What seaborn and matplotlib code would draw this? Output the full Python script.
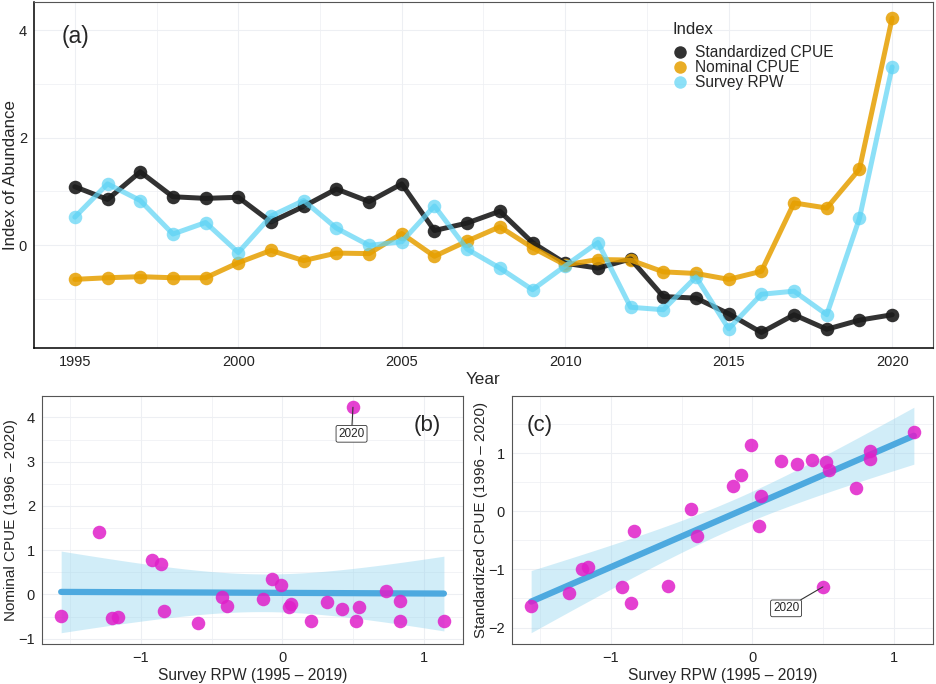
import numpy as np
import pandas as pd
import seaborn as sns
import matplotlib.pyplot as plt
from matplotlib.lines import Line2D
from matplotlib.ticker import MultipleLocator

years = list(range(1995, 2021))

std_cpue = [1.087, 0.85, 1.365, 0.90, 0.87, 0.89, 0.43, 0.72, 1.045, 0.81,
            1.14, 0.27, 0.41, 0.63, 0.045, -0.34, -0.43, -0.26, -0.96, -0.99,
            -1.28, -1.63, -1.30, -1.57, -1.40, -1.30]
nom_cpue = [-0.64, -0.61, -0.59, -0.61, -0.61, -0.33, -0.10, -0.29, -0.15, -0.16,
            0.215, -0.21, 0.074, 0.34, -0.05, -0.37, -0.27, -0.28, -0.50, -0.53,
            -0.64, -0.49, 0.785, 0.69, 1.415, 4.23]
survey_rpw = [0.52, 1.14, 0.83, 0.205, 0.42, -0.14, 0.54, 0.83, 0.315, -0.007,
              0.061, 0.728, -0.077, -0.43, -0.834, -0.388, 0.047, -1.16, -1.206, -0.595,
              -1.562, -0.918, -0.86, -1.298, 0.498, 3.32]

series_names = ['Standardized CPUE', 'Nominal CPUE', 'Survey RPW']
colors = {'Standardized CPUE': '#1c1c1c', 'Nominal CPUE': '#E69F00', 'Survey RPW': '#5CD3F5'}
alphas = {'Standardized CPUE': 0.9, 'Nominal CPUE': 0.85, 'Survey RPW': 0.7}

df = pd.DataFrame({'Year': years * 3,
                   'value': std_cpue + nom_cpue + survey_rpw,
                   'Index': np.repeat(series_names, len(years))})

# lagged pairs: survey in year t vs CPUE in year t+1
lag = pd.DataFrame({'survey': survey_rpw[:-1], 'nominal': nom_cpue[1:],
                    'standard': std_cpue[1:], 'year': years[1:]})

sns.set_style('white')
plt.rcParams['font.family'] = ['Liberation Sans', 'DejaVu Sans']
plt.rcParams['font.size'] = 10.5

fig = plt.figure(figsize=(9.36, 6.84), dpi=100)
ax_a = fig.add_axes([0.0363, 0.4912, 0.9605, 0.5058])
ax_b = fig.add_axes([0.0449, 0.0585, 0.4498, 0.3626])
ax_c = fig.add_axes([0.5470, 0.0585, 0.4498, 0.3626])

grid_col = '#EDEFF3'


def style_axes(ax):
    ax.set_axisbelow(True)
    ax.grid(True, which='major', color=grid_col, lw=0.8)
    ax.grid(True, which='minor', color=grid_col, lw=0.5)
    ax.tick_params(which='major', length=3, width=0.6, color='#444444',
                   labelsize=10.5, labelcolor='#222222', pad=2)
    ax.tick_params(which='minor', length=0)
    for s in ax.spines.values():
        s.set_color('#555555')
        s.set_linewidth(0.8)


# ---- panel (a)
for name in series_names:
    sub = df[df['Index'] == name]
    sns.lineplot(data=sub, x='Year', y='value', color=colors[name], alpha=alphas[name],
                 linewidth=3.6, ax=ax_a, legend=False)
    sns.scatterplot(data=sub, x='Year', y='value', color=colors[name], alpha=alphas[name],
                    s=95, linewidth=0, ax=ax_a, legend=False)

ax_a.set_xlim(1993.75, 2021.25)
ax_a.set_ylim(-1.92, 4.53)
ax_a.xaxis.set_major_locator(MultipleLocator(5))
ax_a.xaxis.set_minor_locator(MultipleLocator(2.5))
ax_a.yaxis.set_major_locator(MultipleLocator(2))
ax_a.yaxis.set_minor_locator(MultipleLocator(1))
style_axes(ax_a)
ax_a.spines['left'].set_color('black')
ax_a.spines['bottom'].set_color('black')
ax_a.spines['left'].set_linewidth(1.1)
ax_a.spines['bottom'].set_linewidth(1.1)
ax_a.set_xlabel('Year', fontsize=12.3, labelpad=2)
ax_a.set_ylabel('Index of Abundance', fontsize=12.2, labelpad=0.5)
ax_a.text(0.031, 0.9, '(a)', transform=ax_a.transAxes, fontsize=16.5, va='center')

handles = [Line2D([], [], ls='none', marker='o', markersize=9, markeredgewidth=0,
                  color=colors[n], alpha=alphas[n]) for n in series_names]
ax_a.text(0.7097, 0.922, 'Index', transform=ax_a.transAxes, fontsize=12, va='center')
leg = ax_a.legend(handles, series_names, loc='upper left',
                  bbox_to_anchor=(0.7086, 0.875), frameon=False, fontsize=11.2,
                  handletextpad=0.35, labelspacing=0.0,
                  borderaxespad=0, borderpad=0, handlelength=1.2)

# ---- regression panels
pt_col = '#E01FC9'
line_col = '#4DA9DF'
band_col = '#8ED3EE'
t_crit = 2.0687  # t(0.975, df=23)


def reg_panel(ax, ycol, ylabel):
    x = lag['survey'].to_numpy()
    y = lag[ycol].to_numpy()
    n = len(x)
    b1, b0 = np.polyfit(x, y, 1)
    resid = y - (b0 + b1 * x)
    s = np.sqrt(np.sum(resid ** 2) / (n - 2))
    xs = np.linspace(x.min(), x.max(), 100)
    yfit = b0 + b1 * xs
    se = s * np.sqrt(1 / n + (xs - x.mean()) ** 2 / np.sum((x - x.mean()) ** 2))
    ax.fill_between(xs, yfit - t_crit * se, yfit + t_crit * se, color=band_col,
                    alpha=0.4, lw=0)
    sns.lineplot(x=xs, y=yfit, color=line_col, linewidth=4.5, ax=ax)
    sns.scatterplot(data=lag, x='survey', y=ycol, color=pt_col, alpha=0.85, s=95,
                    linewidth=0, ax=ax, zorder=3)
    lo = min(y.min(), (yfit - t_crit * se).min())
    hi = max(y.max(), (yfit + t_crit * se).max())
    pad = 0.05 * (hi - lo)
    ax.set_ylim(lo - pad, hi + pad)
    xpad = 0.05 * (x.max() - x.min())
    ax.set_xlim(x.min() - xpad, x.max() + xpad)
    ax.xaxis.set_major_locator(MultipleLocator(1))
    ax.xaxis.set_minor_locator(MultipleLocator(0.5))
    ax.yaxis.set_major_locator(MultipleLocator(1))
    ax.yaxis.set_minor_locator(MultipleLocator(0.5))
    style_axes(ax)
    ax.set_xlabel('Survey RPW (1995 \u2013 2019)', fontsize=11.2, labelpad=2)
    ax.set_ylabel(ylabel, fontsize=11, labelpad=0.5)
    return x[-1], y[-1]


bx, by = reg_panel(ax_b, 'nominal', 'Nominal CPUE (1996 \u2013 2020)')
cx, cy = reg_panel(ax_c, 'standard', 'Standardized CPUE (1996 \u2013 2020)')

ax_b.set_yticks([-1, 0, 1, 2, 3, 4])
ax_b.set_yticklabels(['\u22121', '0', '1', '2', '3', '4'])
ax_c.set_yticks([-2, -1, 0, 1])
ax_c.set_yticklabels(['\u22122', '\u22121', '0', '1'])
for ax in (ax_b, ax_c):
    ax.set_xticks([-1, 0, 1])
    ax.set_xticklabels(['\u22121', '0', '1'])

box = dict(boxstyle='round,pad=0.2,rounding_size=0.15', fc='white', ec='#333333', lw=0.6)
ax_b.annotate('2020', xy=(bx, by), xytext=(bx - 0.01, by - 0.6), ha='center', va='center',
              fontsize=8.5, bbox=box, arrowprops=dict(arrowstyle='-', color='#333333', lw=0.8,
                                                      shrinkA=0, shrinkB=0))
ax_c.annotate('2020', xy=(cx, cy), xytext=(cx - 0.26, cy - 0.37), ha='center', va='center',
              fontsize=8.5, bbox=box, arrowprops=dict(arrowstyle='-', color='#333333', lw=0.8,
                                                      shrinkA=0, shrinkB=0))

ax_b.text(0.915, 0.88, '(b)', transform=ax_b.transAxes, fontsize=16, va='center', ha='center')
ax_c.text(0.065, 0.88, '(c)', transform=ax_c.transAxes, fontsize=16, va='center', ha='center')

fig.savefig('out.png', dpi=100)
